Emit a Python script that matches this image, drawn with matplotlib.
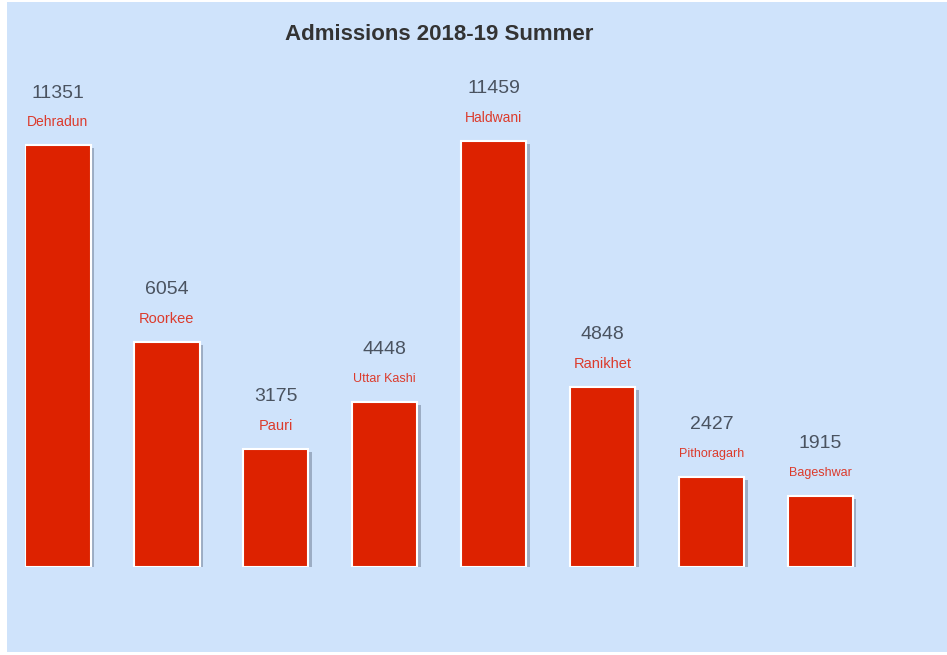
import matplotlib
matplotlib.use('Agg')
import matplotlib.pyplot as plt
import matplotlib.patheffects as pe
from matplotlib.patches import Rectangle

# data
cities = ['Dehradun', 'Roorkee', 'Pauri', 'Uttar Kashi', 'Haldwani', 'Ranikhet', 'Pithoragarh', 'Bageshwar']
admissions = [11351, 6054, 3175, 4448, 11459, 4848, 2427, 1915]
name_sizes = [10, 10.5, 10.5, 9, 10, 10.5, 9, 9]

plt.rcParams['font.family'] = ['Liberation Sans', 'DejaVu Sans']

W, H = 947, 655
bg = '#cfe3fb'
fig = plt.figure(figsize=(W / 100, H / 100), dpi=100, facecolor='white')
# light blue panel, thin white frame at left/top/bottom
fig.patches.append(Rectangle((7 / W, 3 / H), (W - 7) / W, (H - 5) / H,
                             transform=fig.transFigure, facecolor=bg, edgecolor='none', zorder=-5))

# pixel mapping: bar 0 centre at x=58, step 108.9 px; baseline at y=567, 422 px for 11351
step = 108.9
x0, x1 = -0.3, 8.0
left_px = 58 + x0 * step
width_px = (x1 - x0) * step
y_top = 13000
scale = 422 / 11351
height_px = y_top * scale
bottom_px = H - 567
ax = fig.add_axes([left_px / W, bottom_px / H, width_px / W, height_px / H])
ax.set_facecolor('none')
ax.set_zorder(2)
ax.set_xlim(x0, x1)
ax.set_ylim(0, y_top)
ax.axis('off')

xs = list(range(len(cities)))
bars = ax.bar(xs, admissions, width=0.6, color='#dd2200', edgecolor='white', linewidth=1.5)
for b in bars:
    b.set_path_effects([pe.SimplePatchShadow(offset=(2.5, -2.5), shadow_rgbFace='#7a8aa0', alpha=0.6),
                        pe.Normal()])

for x, v, name, fs in zip(xs, admissions, cities, name_sizes):
    ax.annotate(str(v), (x, v), xytext=(0, 52), textcoords='offset pixels',
                ha='center', va='center', fontsize=14, color='#4a5360')
    ax.annotate(name, (x, v), xytext=(0, 23), textcoords='offset pixels',
                ha='center', va='center', fontsize=fs, color='#dc3b2c')

fig.text(439 / W, 1 - 35 / H, 'Admissions 2018-19 Summer', ha='center', va='center',
         fontsize=16, fontweight='bold', color='#333333', zorder=3)

fig.savefig('out.png', dpi=100, facecolor=fig.get_facecolor())
